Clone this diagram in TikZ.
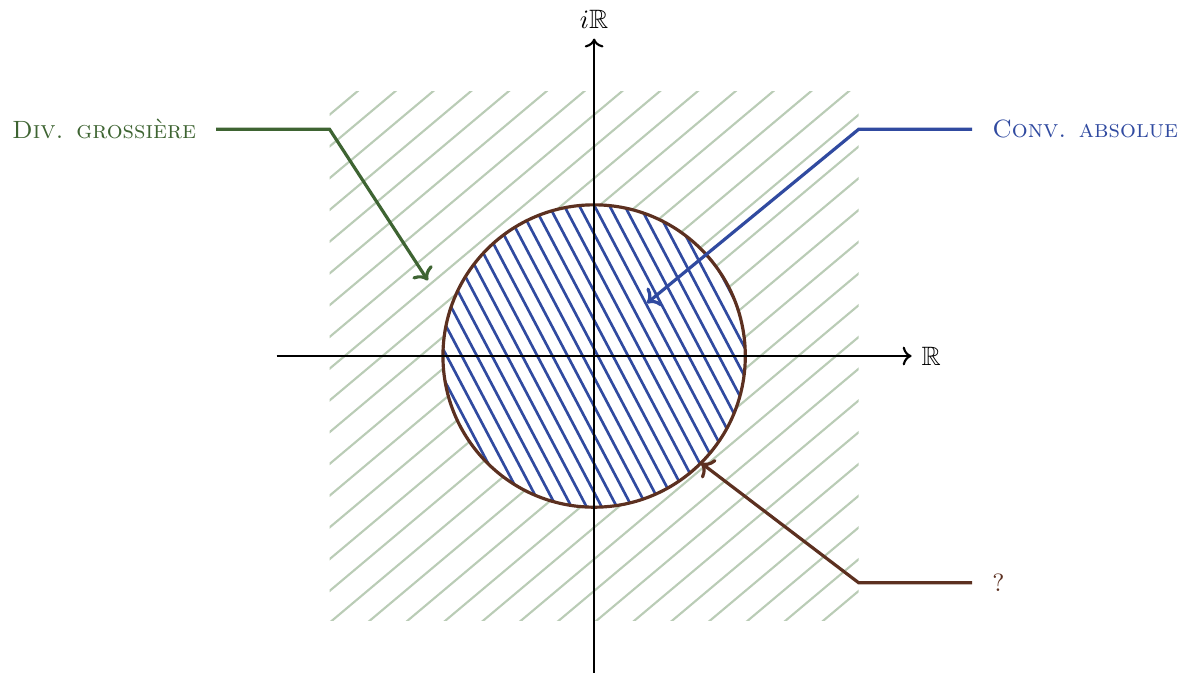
\documentclass[tikz,border=0pt]{standalone}
\definecolor{divGreen}{RGB}{62, 100, 50}
\definecolor{hatchGreen}{RGB}{186, 204, 182}
\definecolor{convBlue}{RGB}{48, 74, 160}
\definecolor{bordBrown}{RGB}{92, 48, 32}
\usepackage{amsmath, amssymb}
\usepackage{tikz}
\usetikzlibrary{arrows.meta, positioning, calc}

\begin{document}
\begin{tikzpicture}[
      axis/.style={->, line width=0.8pt},
      label/.style={font=\fontsize{9.4}{11}\selectfont, inner xsep=0.26cm},
      callout/.style={->, line width=1.2pt}
    ]
    \useasboundingbox (-7.86,-4.19) rectangle (7.83,4.71);
    % divergent zone
    \begin{scope}
      \clip (-3.5,-3.5) rectangle (3.5,3.5);
      \foreach \k in {-17,...,17}
        \draw[hatchGreen, line width=0.8pt]
             ($(\k*0.5+0.2,0)+(-5,-4.2)$) -- ($(\k*0.5+0.2,0)+(5,4.2)$);
    \end{scope}
    % disc of convergence
    \fill[white] (0,0) circle (2);
    \begin{scope}
      \clip (0,0) circle (2);
      \foreach \k in {-20,...,20}
        \draw[convBlue, line width=1pt]
             ($(\k*0.2+1.05,0)+(-1.1,2.09)$) -- ($(\k*0.2+1.05,0)+(1.1,-2.09)$);
    \end{scope}
    \draw[bordBrown, line width=1.2pt] (0,0) circle (2);
    % axes
    \coordinate (xmin) at (-4.2,0);
    \coordinate (ymin) at (0,-4.2);
    \draw[axis] (xmin) -- (4.2,0) node[right] (re) {$\mathbb{R}$};
    \draw[axis] (ymin) -- (0,4.2) node[above] (im) {$i\mathbb{R}$};
    % labels
    \node[label, divGreen, anchor=east] (div) at (-5,3) {\textsc{Div. grossière}};
    \node[label, convBlue, anchor=west] (conv) at (5,3) {\textsc{Conv. absolue}};
    \node[label, bordBrown, anchor=west] (bord) at (5,-3) {?};
    \coordinate (divtip) at (-2.2,1);
    \coordinate (convtip) at (0.7,0.7);
    \coordinate (bordtip) at (-45:2);
    \draw[callout, divGreen] (div.east) -- (-3.5,3) -- (divtip);
    \draw[callout, convBlue] (conv.west) -- (3.5,3) -- (convtip);
    \draw[callout, bordBrown] (bord.west) -- (3.5,-3) -- (bordtip);
  \end{tikzpicture}
\end{document}
